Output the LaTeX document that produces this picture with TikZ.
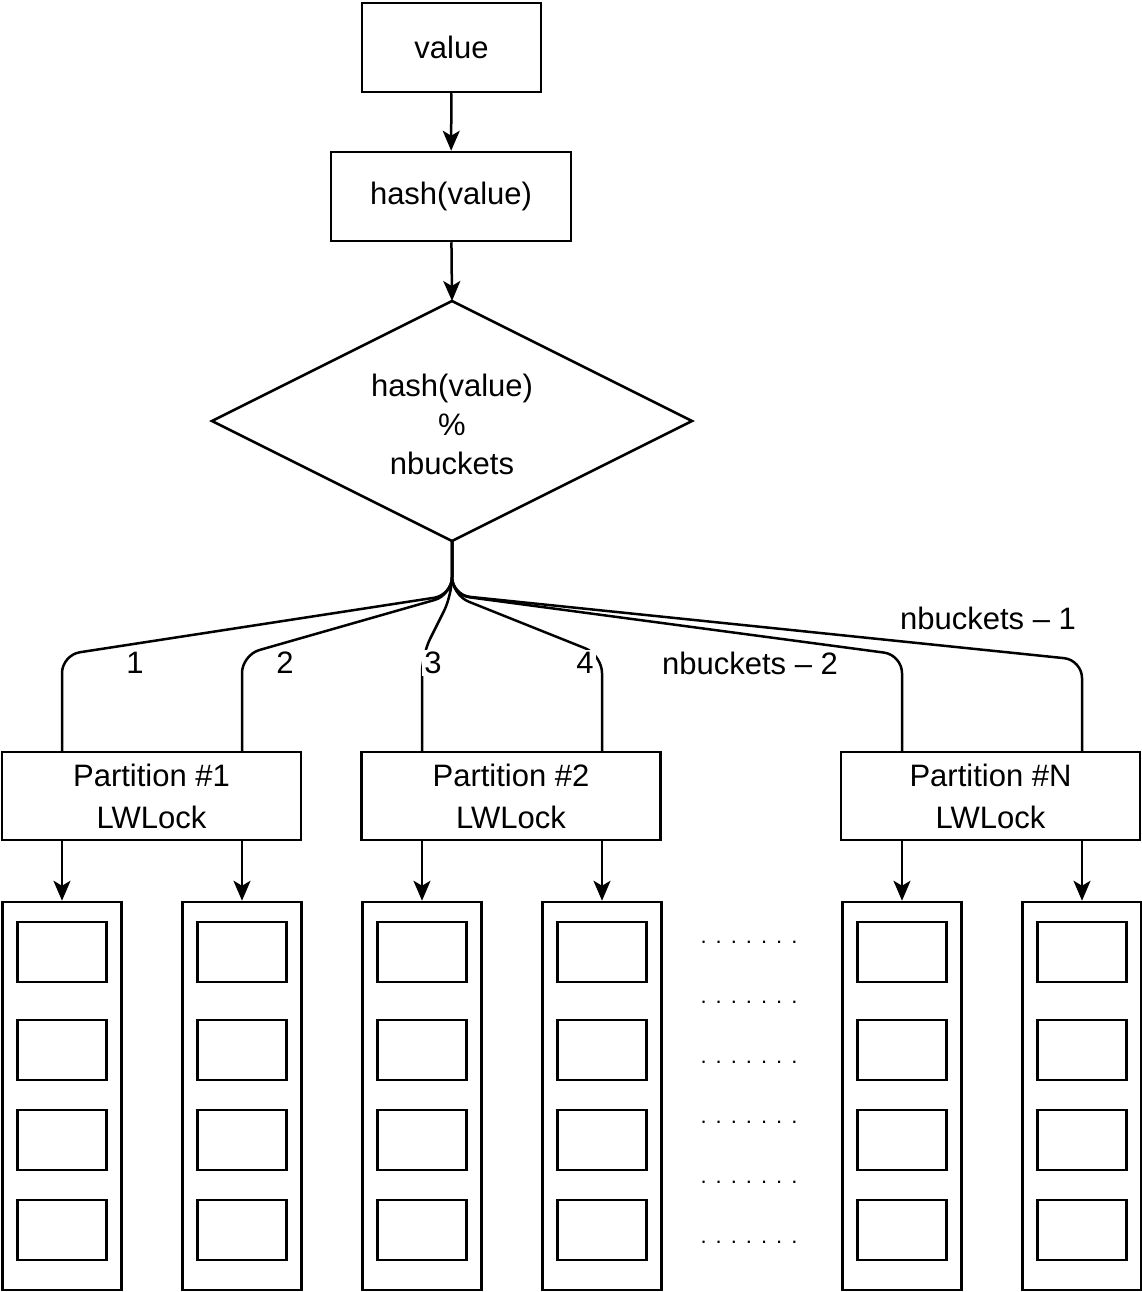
\documentclass[tikz,border=0pt]{standalone}
\usepackage{fontspec}
\setmainfont{Liberation Sans}
\usetikzlibrary{shapes.geometric,arrows.meta}
\tikzset{
  box/.style={draw, line width=2.5pt, inner sep=0pt},
  lbl/.style={fill=white, inner sep=2pt},
}
\begin{document}
\begin{tikzpicture}[x=1pt, y=-1pt, line width=2.5pt, >={Stealth[length=20pt, width=17pt, inset=5pt]},
  font=\fontsize{31}{36}\selectfont]
\useasboundingbox (0,0) rectangle (1142,1292);
\node [box, minimum width=179, minimum height=89] (value) at (451.5,47.5) {value};
\node [box, minimum width=240, minimum height=89] (hash) at (451,196.5) {hash(value)};
\draw (452,301) -- (692,421) -- (452,541) -- (212,421) -- cycle;
\node [align=center, font=\fontsize{31}{39}\selectfont] (mod) at (452,424) {hash(value)\\\%\\nbuckets};
\coordinate (dia) at (452,541);
\draw [->] (value) -- (hash);
\draw [->] (hash) -- (452,301);

% partitions
\foreach \n/\x/\t in {p1/151.5/1, p2/511/2, pn/990.5/N}
  \node [box, minimum width=299, minimum height=88, align=center, font=\fontsize{31}{42}\selectfont]
    (\n) at (\x,796) {Partition \#\t\\LWLock};

% bucket columns
\foreach \i/\x in {1/62, 2/242, 3/422, 4/602, 5/902, 6/1082} {
  \node [box, minimum width=119, minimum height=388] (col\i) at (\x,1096) {};
  \foreach \j/\y in {1/952, 2/1050, 3/1140, 4/1230}
    \node [box, minimum width=89, minimum height=60] (b\i\j) at (\x,\y) {};
}
\foreach \i/\p in {1/p1, 2/p1, 3/p2, 4/p2, 5/pn, 6/pn}
  \draw [->] (\p.south -| col\i.north) -- (col\i.north);

% fan-out
\foreach \x in {62, 242, 422, 602, 902}
  \draw [rounded corners=18] (dia) -- (452,595) -- (\x,655) -- (\x,752);
\draw [rounded corners=18] (dia) -- (452,595) -- (1082,660) -- (1082,752);
\node [lbl] (l1) at (135,663) {1};
\node [lbl] (l2) at (285,663) {2};
\node [lbl] (l3) at (433,663) {3};
\node [lbl] (l4) at (585,663) {4};
\node [lbl] (l5) at (750,663) {nbuckets -- 2};
\node [lbl] (l6) at (988,618) {nbuckets -- 1};

\foreach \y in {942,1002,1062,1122,1182,1242}
  \node (dots\y) at (749,\y) {\fontsize{22}{22}\selectfont .\hspace{9pt}.\hspace{9pt}.\hspace{9pt}.\hspace{9pt}.\hspace{9pt}.\hspace{9pt}.};
\end{tikzpicture}
\end{document}
